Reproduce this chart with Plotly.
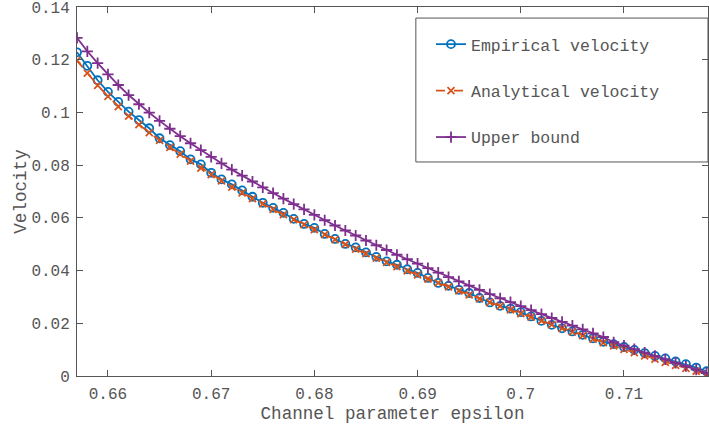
import plotly.graph_objects as go

epsilon = [0.657, 0.658, 0.659, 0.660, 0.661, 0.662, 0.663, 0.664, 0.665, 0.666,
           0.667, 0.668, 0.669, 0.670, 0.671, 0.672, 0.673, 0.674, 0.675, 0.676,
           0.677, 0.678, 0.679, 0.680, 0.681, 0.682, 0.683, 0.684, 0.685, 0.686,
           0.687, 0.688, 0.689, 0.690, 0.691, 0.692, 0.693, 0.694, 0.695, 0.696,
           0.697, 0.698, 0.699, 0.700, 0.701, 0.702, 0.703, 0.704, 0.705, 0.706,
           0.707, 0.708, 0.709, 0.710, 0.711, 0.712, 0.713, 0.714, 0.715, 0.716,
           0.717, 0.718]

empirical = [0.1228, 0.1177, 0.1122, 0.1078, 0.1040, 0.1003, 0.0971, 0.0940, 0.0902, 0.0876,
             0.0853, 0.0822, 0.0803, 0.0771, 0.0746, 0.0727, 0.0704, 0.0680, 0.0657, 0.0638,
             0.0619, 0.0596, 0.0577, 0.0562, 0.0539, 0.0520, 0.0501, 0.0488, 0.0469, 0.0452,
             0.0435, 0.0422, 0.0405, 0.0391, 0.0372, 0.0353, 0.0342, 0.0327, 0.0315, 0.0296,
             0.0279, 0.0266, 0.0256, 0.0242, 0.0226, 0.0209, 0.0194, 0.0181, 0.0169, 0.0156,
             0.0143, 0.0130, 0.0121, 0.0110, 0.0099, 0.0087, 0.0076, 0.0067, 0.0055, 0.0045,
             0.0032, 0.0018]

analytical = [0.1197, 0.1149, 0.1103, 0.1061, 0.1022, 0.0986, 0.0954, 0.0923, 0.0894, 0.0867,
              0.0842, 0.0815, 0.0789, 0.0764, 0.0740, 0.0717, 0.0695, 0.0673, 0.0653, 0.0632,
              0.0612, 0.0593, 0.0574, 0.0555, 0.0536, 0.0517, 0.0499, 0.0481, 0.0464, 0.0447,
              0.0431, 0.0415, 0.0399, 0.0384, 0.0368, 0.0353, 0.0338, 0.0323, 0.0308, 0.0293,
              0.0279, 0.0265, 0.0251, 0.0237, 0.0223, 0.0209, 0.0195, 0.0181, 0.0167, 0.0153,
              0.0140, 0.0127, 0.0114, 0.0101, 0.0089, 0.0076, 0.0064, 0.0052, 0.0040, 0.0029,
              0.0018, 0.0007]

upper_bound = [0.1283, 0.1232, 0.1187, 0.1144, 0.1104, 0.1066, 0.1031, 0.0999, 0.0968, 0.0938,
               0.0910, 0.0883, 0.0857, 0.0831, 0.0807, 0.0783, 0.0760, 0.0738, 0.0716, 0.0694,
               0.0673, 0.0652, 0.0632, 0.0611, 0.0591, 0.0571, 0.0552, 0.0533, 0.0514, 0.0496,
               0.0478, 0.0460, 0.0443, 0.0426, 0.0409, 0.0392, 0.0375, 0.0359, 0.0343, 0.0327,
               0.0311, 0.0295, 0.0280, 0.0265, 0.0250, 0.0235, 0.0220, 0.0205, 0.0191, 0.0177,
               0.0162, 0.0148, 0.0128, 0.0115, 0.0102, 0.0089, 0.0076, 0.0063, 0.0050, 0.0037,
               0.0024, 0.0011]

x_ticks = [0.66, 0.67, 0.68, 0.69, 0.70, 0.71]
x_tick_labels = ["0.66", "0.67", "0.68", "0.69", "0.7", "0.71"]
y_ticks = [0, 0.02, 0.04, 0.06, 0.08, 0.10, 0.12, 0.14]
y_tick_labels = ["0", "0.02", "0.04", "0.06", "0.08", "0.1", "0.12", "0.14"]

names = ["Empirical velocity", "Analytical velocity", "Upper bound"]
x_title = "Channel parameter epsilon"
y_title = "Velocity"

FONT = "Liberation Mono, Courier New, monospace"
TXT = "#555555"
AXC = "#555555"

fig = go.Figure()
fig.add_trace(go.Scatter(
    x=epsilon, y=empirical, name=names[0], legendgroup="a", mode="lines+markers",
    line=dict(color="#0072BD", width=1.8),
    marker=dict(symbol="circle-open", size=8, color="#0072BD", line=dict(width=1.8, color="#0072BD"))))
fig.add_trace(go.Scatter(
    x=epsilon, y=analytical, name=names[1], legendgroup="b", mode="lines+markers",
    line=dict(color="#D95319", width=1.8, dash="dash"),
    marker=dict(symbol="x-thin-open", size=7, color="#D95319", line=dict(width=1.8, color="#D95319"))))
fig.add_trace(go.Scatter(
    x=epsilon, y=upper_bound, name=names[2], legendgroup="c", mode="lines+markers",
    line=dict(color="#7E2F8E", width=1.8),
    marker=dict(symbol="cross-thin-open", size=8, color="#7E2F8E", line=dict(width=1.8, color="#7E2F8E"))))

axis_common = dict(
    showgrid=False, zeroline=False, showline=True, linecolor=AXC, linewidth=1,
    mirror="ticks", ticks="inside", ticklen=6, tickwidth=1, tickcolor=AXC,
    tickfont=dict(family=FONT, size=16, color=TXT), automargin=False,
    ticklabeloverflow="allow",
)

fig.update_layout(
    width=709, height=432,
    margin=dict(l=77, r=1, t=7, b=56),
    paper_bgcolor="white", plot_bgcolor="white",
    font=dict(family=FONT, color=TXT),
    xaxis=dict(range=[0.657, 0.71814], tickvals=x_ticks, ticktext=x_tick_labels,
               ticklabelstandoff=3,
               title=dict(text=x_title, font=dict(family=FONT, size=17.6, color=TXT), standoff=2),
               **axis_common),
    yaxis=dict(range=[0, 0.14], tickvals=y_ticks, ticktext=y_tick_labels,
               ticklabelstandoff=3,
               title=dict(text=y_title, font=dict(family=FONT, size=17.6, color=TXT), standoff=0),
               **axis_common),
    legend=dict(x=0.561, y=0.946, xanchor="left", yanchor="top",
                bgcolor="rgba(0,0,0,0)", borderwidth=0,
                font=dict(family=FONT, size=16.5, color=TXT),
                tracegroupgap=22),
    shapes=[dict(type="rect", xref="paper", yref="paper",
                 x0=0.537, x1=1.0, y0=0.580, y1=0.970,
                 line=dict(color=AXC, width=1), fillcolor="white", layer="below")],
    showlegend=True,
)

fig.write_html("out.html", config={"displayModeBar": False},
               post_script="document.body.style.margin='0';")
